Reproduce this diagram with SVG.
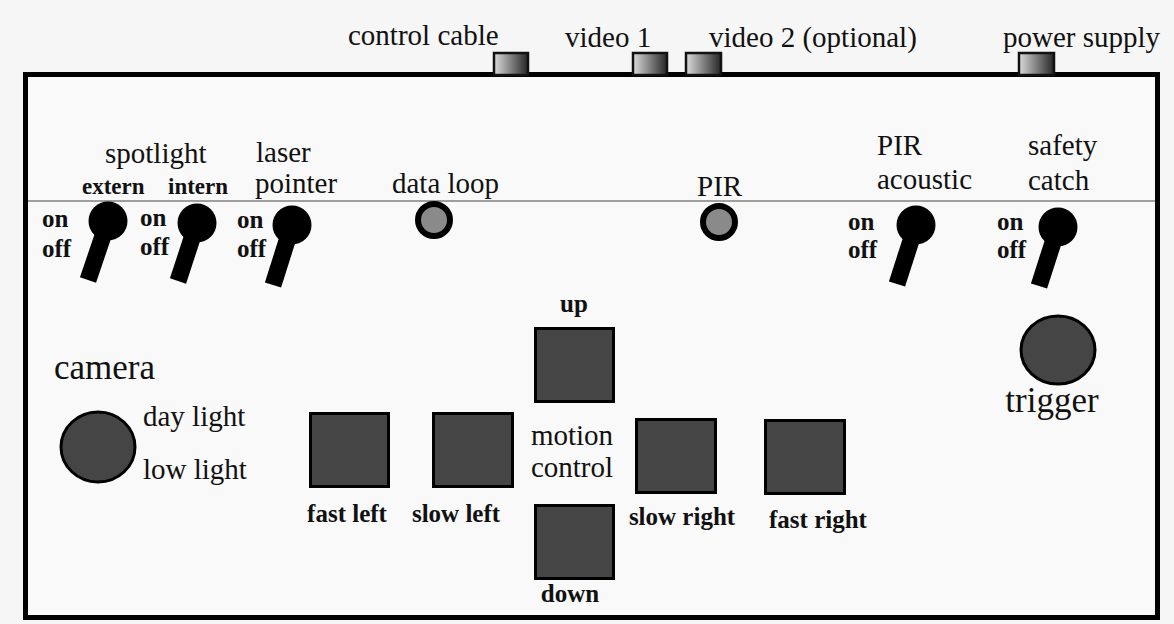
<svg xmlns="http://www.w3.org/2000/svg" width="1174" height="624" viewBox="0 0 1174 624">
<defs>
<linearGradient id="conn" x1="0" y1="0" x2="1" y2="0">
<stop offset="0" stop-color="#dcdcdc"/>
<stop offset="1" stop-color="#262626"/>
</linearGradient>
<style>
text{font-family:'Liberation Serif','Times New Roman',serif;fill:#111;}
.n{font-size:29px;}
.b{font-weight:bold;font-size:25px;}
.s{font-weight:bold;font-size:23px;}
.m{text-anchor:middle;}
.conn{fill:url(#conn);stroke:#111;stroke-width:2.5;}
.knob{fill:#000;}
.lever{stroke:#000;stroke-width:17;stroke-linecap:butt;}
.led{fill:#8a8a8a;stroke:#000;stroke-width:6;}
.btn{fill:#454545;stroke:#000;stroke-width:3;}
</style>
</defs>
<rect width="1174" height="624" fill="#f6f6f6"/>
<g id="frame">
<rect x="25.5" y="74.5" width="1132" height="543" fill="#f9f9f9" stroke="#000" stroke-width="5"/>
<line x1="28" y1="201" x2="1155" y2="201" stroke="#808080" stroke-width="1.5"/>
</g>
<g id="connectors">
<rect class="conn" x="494" y="53" width="34" height="22"/>
<rect class="conn" x="633" y="53" width="34" height="22"/>
<rect class="conn" x="686" y="53" width="35" height="22"/>
<rect class="conn" x="1019" y="53" width="35" height="22"/>
<text class="n" x="348" y="45">control cable</text>
<text class="n" x="565" y="47">video 1</text>
<text class="n" x="709" y="47">video 2 (optional)</text>
<text class="n" x="1003" y="47">power supply</text>
</g>
<g id="spotlight">
<text class="n" x="105" y="163">spotlight</text>
<text class="s" x="82" y="194">extern</text>
<text class="s" x="168" y="194">intern</text>
</g>
<g id="sw-extern">
<line class="lever" x1="107" y1="224" x2="88" y2="280"/>
<circle class="knob" cx="108" cy="221" r="19.5"/>
<text class="b" x="42" y="227">on</text>
<text class="b" x="42" y="257">off</text>
</g>
<g id="sw-intern">
<line class="lever" x1="196" y1="226" x2="178" y2="281"/>
<circle class="knob" cx="197" cy="223" r="19.5"/>
<text class="b" x="140" y="226">on</text>
<text class="b" x="140" y="255">off</text>
</g>
<g id="sw-laser">
<text class="n" x="256" y="162">laser</text>
<text class="n" x="255" y="193">pointer</text>
<line class="lever" x1="291" y1="228" x2="273" y2="285"/>
<circle class="knob" cx="292" cy="225" r="19.5"/>
<text class="b" x="237" y="228">on</text>
<text class="b" x="237" y="257">off</text>
</g>
<g id="data-loop">
<text class="n" x="392" y="193">data loop</text>
<circle class="led" cx="434" cy="220" r="16"/>
</g>
<g id="pir">
<text class="n" x="697" y="196">PIR</text>
<circle class="led" cx="719" cy="222" r="16"/>
</g>
<g id="sw-pir-acoustic">
<text class="n" x="877" y="155">PIR</text>
<text class="n" x="877" y="189">acoustic</text>
<line class="lever" x1="915" y1="228" x2="897" y2="284"/>
<circle class="knob" cx="916" cy="225" r="19.5"/>
<text class="b" x="848" y="230">on</text>
<text class="b" x="848" y="258">off</text>
</g>
<g id="sw-safety">
<text class="n" x="1028" y="155">safety</text>
<text class="n" x="1028" y="190">catch</text>
<line class="lever" x1="1057" y1="230" x2="1039" y2="286"/>
<circle class="knob" cx="1058" cy="227" r="19.5"/>
<text class="b" x="997" y="230">on</text>
<text class="b" x="997" y="258">off</text>
</g>
<g id="trigger">
<ellipse class="btn" cx="1058" cy="350" rx="37" ry="34"/>
<text class="m" x="1052" y="412" style="font-size:35px">trigger</text>
</g>
<g id="camera">
<text x="54" y="379" style="font-size:35px">camera</text>
<ellipse class="btn" cx="98" cy="447" rx="37" ry="35"/>
<text class="n" x="143" y="426">day light</text>
<text class="n" x="143" y="479">low light</text>
</g>
<g id="motion-control">
<text class="n m" x="572" y="445">motion</text>
<text class="n m" x="572" y="477">control</text>
</g>
<g id="btn-up">
<rect class="btn" x="535.5" y="328.5" width="78" height="73"/>
<text class="b m" x="574" y="312">up</text>
</g>
<g id="btn-down">
<rect class="btn" x="535.5" y="505.5" width="78" height="73"/>
<text class="b m" x="570" y="602">down</text>
</g>
<g id="btn-fast-left">
<rect class="btn" x="310.5" y="413.5" width="78" height="73"/>
<text class="b m" x="347" y="522">fast left</text>
</g>
<g id="btn-slow-left">
<rect class="btn" x="433.5" y="413.5" width="79" height="73"/>
<text class="b m" x="456" y="522">slow left</text>
</g>
<g id="btn-slow-right">
<rect class="btn" x="636.5" y="419.5" width="79" height="73"/>
<text class="b m" x="682" y="525">slow right</text>
</g>
<g id="btn-fast-right">
<rect class="btn" x="765.5" y="420.5" width="79" height="73"/>
<text class="b m" x="818" y="528">fast right</text>
</g>
</svg>
